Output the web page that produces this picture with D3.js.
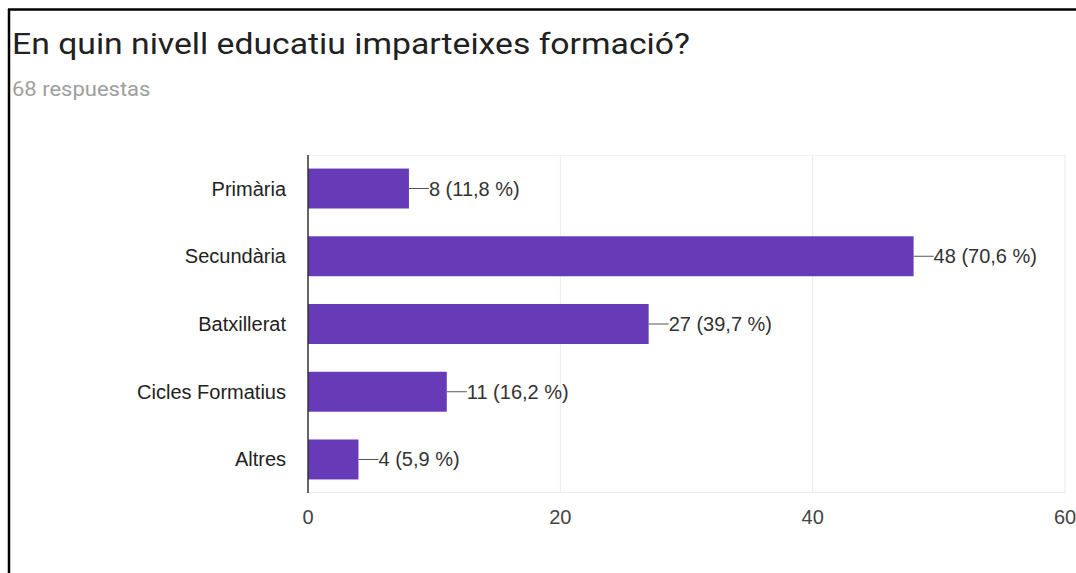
<!DOCTYPE html>
<html><head><meta charset="utf-8">
<script src="https://cdn.jsdelivr.net/npm/d3@7"></script>
<style>body{margin:0;background:#fff;}svg{display:block;}</style>
</head><body>
<script>
const categories = ["Primària","Secundària","Batxillerat","Cicles Formatius","Altres"];
const counts = [8,48,27,11,4];
const percents = ["11,8","70,6","39,7","16,2","5,9"];
const xTicks = [0,20,40,60];
const title = "En quin nivell educatiu imparteixes formació?";
const subtitle = "68 respuestas";

const W = 1076, H = 573;
const svg = d3.select("body").append("svg").attr("width",W).attr("height",H);
svg.append("rect").attr("width",W).attr("height",H).attr("fill","#fff");
// frame
svg.append("line").attr("x1",9).attr("x2",9).attr("y1",9).attr("y2",H).attr("stroke","#000").attr("stroke-width",2.5);
svg.append("line").attr("x1",8).attr("x2",W).attr("y1",9.5).attr("y2",9.5).attr("stroke","#000").attr("stroke-width",2.5);

svg.append("text").attr("transform","translate(12,54) scale(1.163,1)").text(title)
  .attr("font-family","Roboto, Arial, sans-serif").attr("font-size",29).attr("fill","#212121");
svg.append("text").attr("transform","translate(12,96) scale(1.1,1)").text(subtitle)
  .attr("font-family","Roboto, Arial, sans-serif").attr("font-size",20).attr("fill","#9e9e9e");

const x = d3.scaleLinear().domain([0,60]).range([308,1065]);
const y = d3.scaleBand().domain(categories).range([155,493]).paddingInner(0.41).paddingOuter(0.2);
const font = "'Liberation Sans', Arial, sans-serif";

// gridlines
const g = svg.append("g");
g.selectAll("line.grid").data(xTicks.slice(1)).join("line")
  .attr("x1",d=>x(d)).attr("x2",d=>x(d)).attr("y1",155).attr("y2",493)
  .attr("stroke","#ebebeb").attr("stroke-width",1);
g.append("line").attr("x1",x(0)).attr("x2",x(60)).attr("y1",155.5).attr("y2",155.5).attr("stroke","#f2f2f2");
g.append("line").attr("x1",x(0)).attr("x2",x(60)).attr("y1",492.5).attr("y2",492.5).attr("stroke","#ebebeb");

// bars
svg.selectAll("rect.bar").data(categories).join("rect")
  .attr("x",x(0)).attr("y",d=>y(d)).attr("height",y.bandwidth())
  .attr("width",(d,i)=>x(counts[i])-x(0)).attr("fill","#673ab7");

// axis line
svg.append("line").attr("x1",x(0)).attr("x2",x(0)).attr("y1",155).attr("y2",493).attr("stroke","#333").attr("stroke-width",1.5);

// annotation
categories.forEach((c,i)=>{
  const cy = y(c)+y.bandwidth()/2;
  const x1 = x(counts[i]);
  svg.append("line").attr("x1",x1).attr("x2",x1+20).attr("y1",cy).attr("y2",cy).attr("stroke","#555").attr("stroke-width",1);
  svg.append("text").attr("x",x1+20).attr("y",cy).attr("dy","0.35em")
    .text(counts[i]+" ("+percents[i]+" %)")
    .attr("font-family",font).attr("font-size",20).attr("fill","#333");
});

// y labels
svg.selectAll("text.cat").data(categories).join("text")
  .attr("x",286).attr("y",d=>y(d)+y.bandwidth()/2).attr("dy","0.35em")
  .attr("text-anchor","end").text(d=>d)
  .attr("font-family",font).attr("font-size",20).attr("fill","#222");

// x tick labels
svg.selectAll("text.tick").data(xTicks).join("text")
  .attr("x",d=>x(d)).attr("y",517).attr("dy","0.35em").attr("text-anchor","middle").text(d=>d)
  .attr("font-family",font).attr("font-size",20).attr("fill","#444");
</script>
</body></html>
